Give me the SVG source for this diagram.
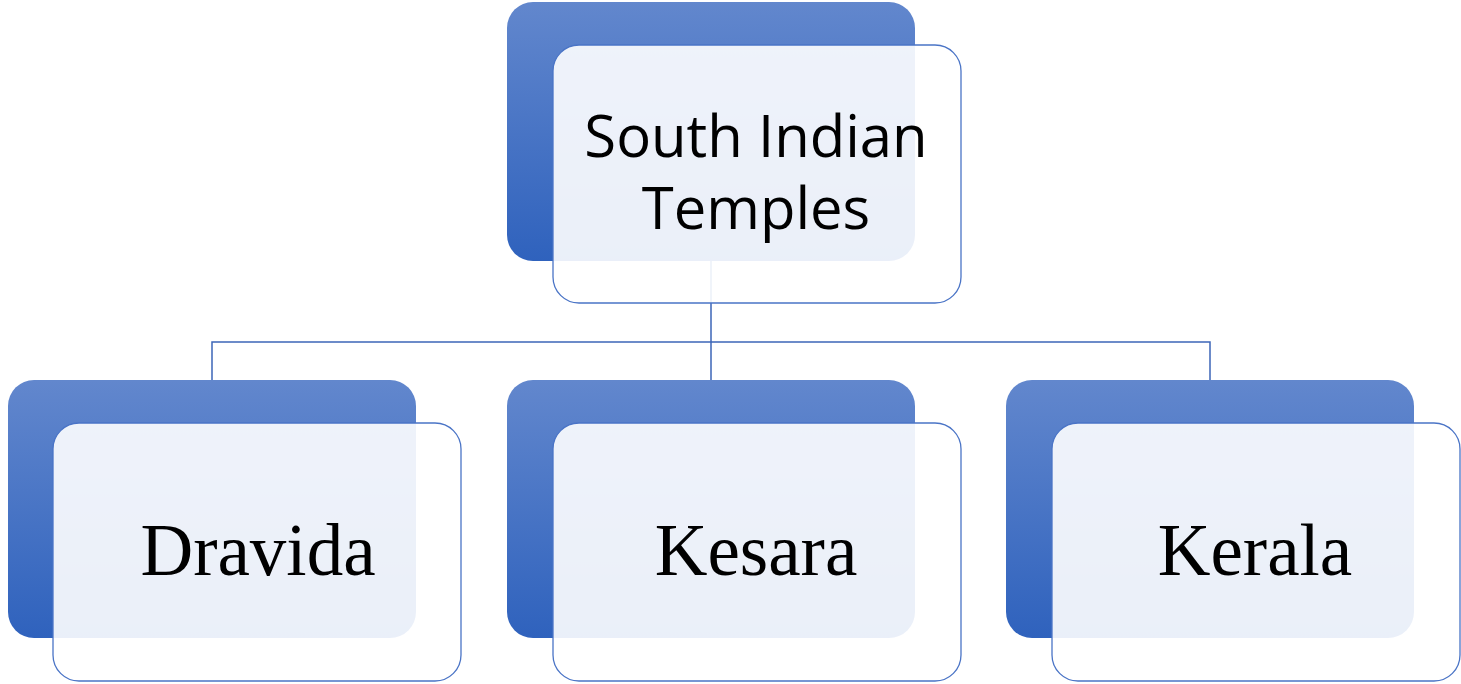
<svg xmlns="http://www.w3.org/2000/svg" width="1461" height="684" viewBox="0 0 1461 684">
<defs>
<linearGradient id="g" x1="0" y1="0" x2="0" y2="1">
<stop offset="0" stop-color="#6287CD"/>
<stop offset="1" stop-color="#2F62BD"/>
</linearGradient>
<style>
.back{fill:url(#g);}
.front{fill:#ffffff;fill-opacity:0.9;stroke:#4A74C6;stroke-width:1.3;}
.con{fill:none;stroke:#3D66B8;stroke-width:1.5;}
.sans{font-family:"Open Sans","Noto Sans",sans-serif;font-size:58px;fill:#000;text-anchor:middle;}
.serif{font-family:"Liberation Serif","DejaVu Serif",serif;font-size:73px;fill:#000;text-anchor:middle;}
</style>
</defs>
<rect width="1461" height="684" fill="#fff"/>
<g id="connectors">
<path class="con" d="M711 261 V380 M212 380 V342 H1210 V380"/>
</g>
<g id="node-top">
<rect class="back" x="507" y="2" width="408" height="259" rx="26"/>
<rect class="front" x="553" y="45" width="408" height="258" rx="26"/>
<text class="sans" x="756" y="157">South Indian</text>
<text class="sans" x="756" y="229">Temples</text>
</g>
<g id="node-dravida">
<rect class="back" x="8" y="380" width="408" height="258" rx="26"/>
<rect class="front" x="53" y="423" width="408" height="258" rx="26"/>
<text class="serif" x="258" y="575">Dravida</text>
</g>
<g id="node-kesara">
<rect class="back" x="507" y="380" width="408" height="258" rx="26"/>
<rect class="front" x="553" y="423" width="408" height="258" rx="26"/>
<text class="serif" x="756" y="575">Kesara</text>
</g>
<g id="node-kerala">
<rect class="back" x="1006" y="380" width="408" height="258" rx="26"/>
<rect class="front" x="1052" y="423" width="408" height="258" rx="26"/>
<text class="serif" x="1255" y="575">Kerala</text>
</g>
</svg>
